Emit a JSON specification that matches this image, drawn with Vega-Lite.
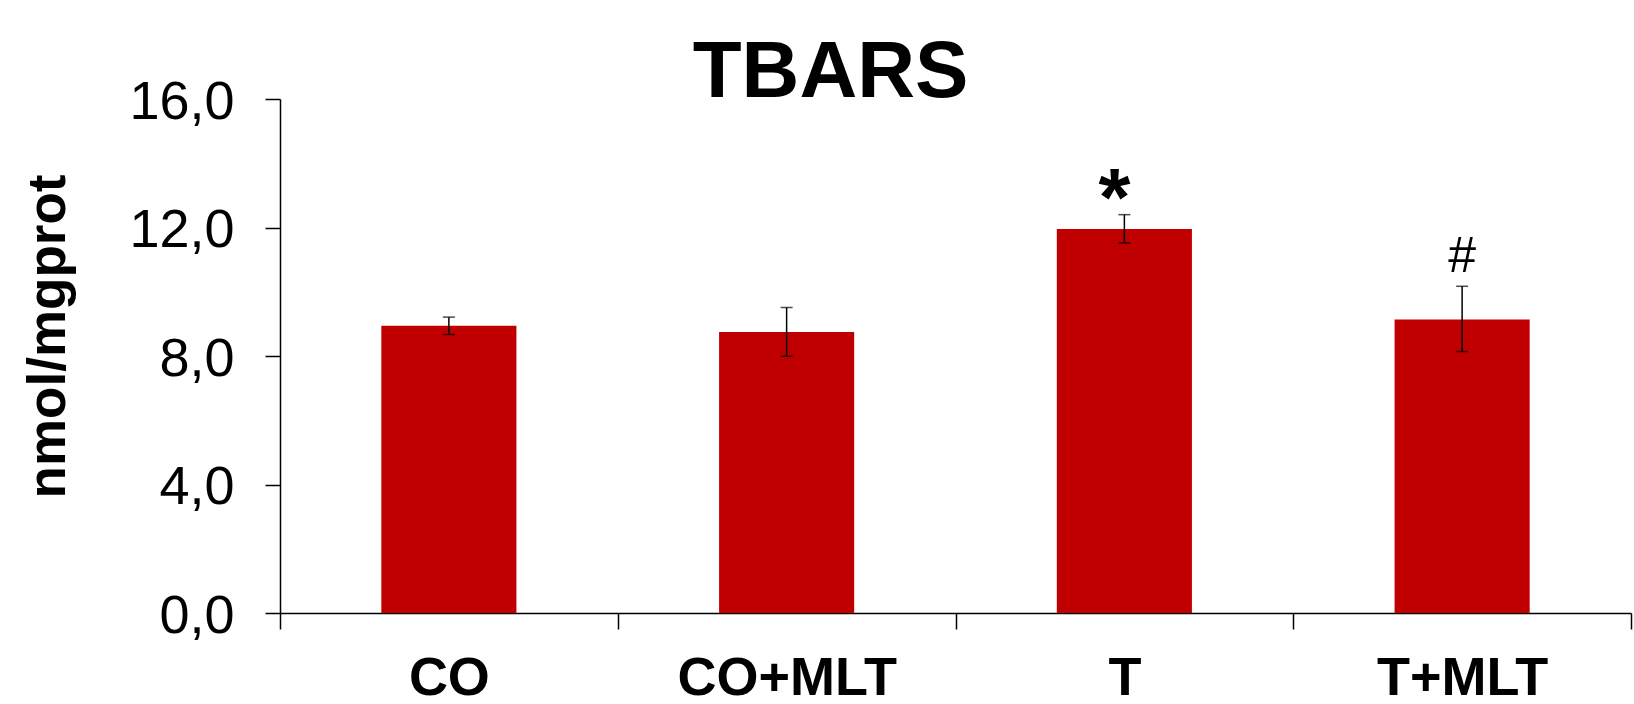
{
  "$schema": "https://vega.github.io/schema/vega-lite/v6.json",
  "width": 1351,
  "height": 514,
  "autosize": {"type": "none"},
  "padding": {"left": 280, "top": 99, "right": 3, "bottom": 91},
  "background": "white",
  "config": {"font": "Liberation Sans", "view": {"stroke": null}},
  "title": {
    "text": "TBARS",
    "font": "Liberation Sans",
    "fontSize": 80,
    "fontWeight": "bold",
    "color": "black",
    "anchor": "middle",
    "frame": "group",
    "baseline": "top",
    "dx": -125,
    "dy": 39,
    "offset": 0
  },
  "data": {
    "values": [
      {"group": "CO", "mean": 8.94, "lower": 8.67, "upper": 9.21, "sig": ""},
      {"group": "CO+MLT", "mean": 8.75, "lower": 7.99, "upper": 9.51, "sig": ""},
      {"group": "T", "mean": 11.95, "lower": 11.52, "upper": 12.4, "sig": "*"},
      {"group": "T+MLT", "mean": 9.14, "lower": 8.14, "upper": 10.17, "sig": "#"}
    ]
  },
  "encoding": {
    "x": {
      "field": "group",
      "type": "nominal",
      "sort": null,
      "scale": {"paddingInner": 0, "paddingOuter": 0},
      "axis": {
        "title": null,
        "labelAngle": 0,
        "labelFont": "Liberation Sans",
        "labelFontSize": 54,
        "labelFontWeight": "bold",
        "labelColor": "black",
        "labelBaseline": "alphabetic",
        "labelPadding": 65,
        "labelLimit": 0,
        "tickBand": "extent",
        "tickSize": 16,
        "tickColor": "black",
        "tickWidth": 1.5,
        "domainColor": "black",
        "domainWidth": 1.5,
        "grid": false
      }
    }
  },
  "layer": [
    {
      "mark": {"type": "bar", "color": "#C00000", "width": {"band": 0.4}},
      "encoding": {
        "y": {
          "field": "mean",
          "type": "quantitative",
          "scale": {"domain": [0, 16], "nice": false},
          "axis": {
            "values": [0, 4, 8, 12, 16],
            "labelExpr": "replace(format(datum.value, '.1f'), '.', ',')",
            "labelFont": "Liberation Sans",
            "labelFontSize": 54,
            "labelColor": "black",
            "labelPadding": 31,
            "labelBaseline": "alphabetic",
            "labelOffset": 19,
            "tickSize": 15,
            "tickColor": "black",
            "tickWidth": 1.5,
            "domainColor": "black",
            "domainWidth": 1.5,
            "grid": false,
            "title": "nmol/mgprot",
            "titleFont": "Liberation Sans",
            "titleFontSize": 53,
            "titleFontWeight": "bold",
            "titleColor": "black",
            "titleAngle": -90,
            "titleAlign": "center",
            "titleBaseline": "alphabetic",
            "titleX": -216,
            "titleY": 237
          }
        }
      }
    },
    {
      "mark": {"type": "rule", "color": "black", "strokeWidth": 1.5},
      "encoding": {
        "y": {"field": "lower", "type": "quantitative"},
        "y2": {"field": "upper"}
      }
    },
    {
      "mark": {"type": "tick", "color": "black", "thickness": 1.5, "size": 12},
      "encoding": {"y": {"field": "upper", "type": "quantitative"}}
    },
    {
      "mark": {"type": "tick", "color": "black", "thickness": 1.5, "size": 12},
      "encoding": {"y": {"field": "lower", "type": "quantitative"}}
    },
    {
      "transform": [{"filter": "datum.sig == '*'"}],
      "mark": {
        "type": "text",
        "font": "Liberation Sans",
        "fontSize": 82,
        "fontWeight": "bold",
        "color": "black",
        "baseline": "alphabetic",
        "dx": -10,
        "dy": 10
      },
      "encoding": {
        "y": {"field": "upper", "type": "quantitative"},
        "text": {"field": "sig"}
      }
    },
    {
      "transform": [{"filter": "datum.sig == '#'"}],
      "mark": {
        "type": "text",
        "font": "Liberation Sans",
        "fontSize": 50,
        "color": "black",
        "baseline": "alphabetic",
        "dy": -14
      },
      "encoding": {
        "y": {"field": "upper", "type": "quantitative"},
        "text": {"field": "sig"}
      }
    }
  ]
}
